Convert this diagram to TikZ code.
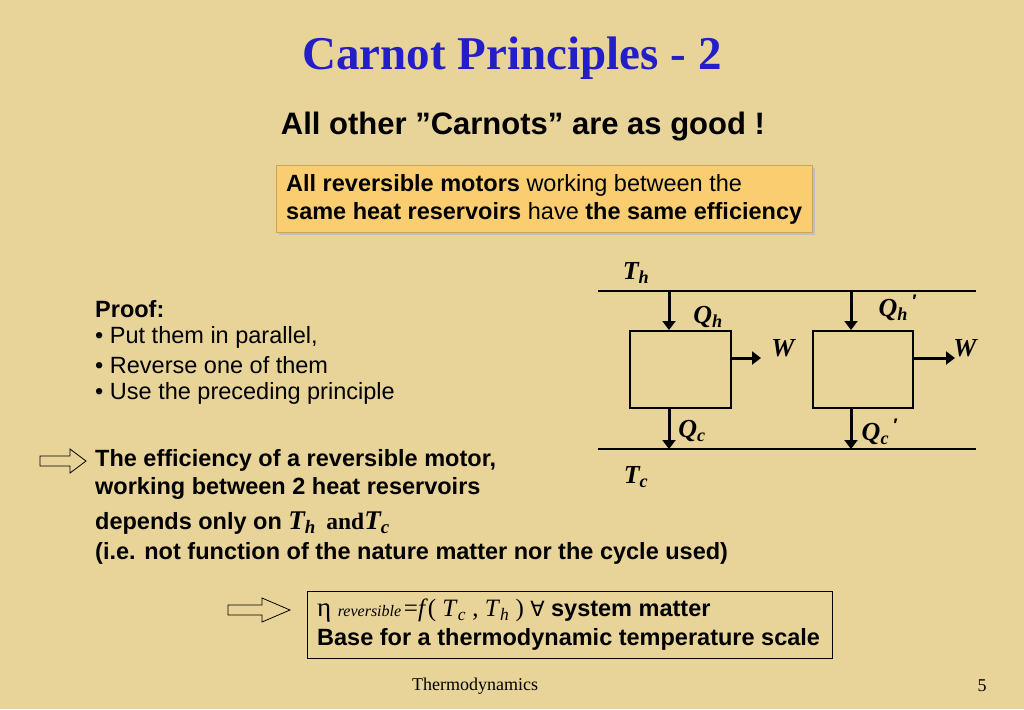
\documentclass[tikz,border=0pt]{standalone}
\usepackage{fontspec}
\setmainfont{Liberation Sans}
\newfontfamily\serif{Liberation Serif}
\newfontfamily\dejavu{DejaVu Sans}
\usetikzlibrary{arrows.meta}
\definecolor{bg}{RGB}{232,212,152}
\definecolor{ybox}{RGB}{250,206,112}
\definecolor{ttl}{RGB}{35,30,200}
\tikzset{
 txt/.style={anchor=west,inner sep=0pt,font=\fontsize{23.5}{26}\selectfont},
 sym/.style={inner sep=0pt,font=\serif\bfseries\itshape\fontsize{26}{28}\selectfont},
 lin/.style={line width=2pt},
 flow/.style={line width=3pt,-{Triangle[length=9pt,width=13pt]}},
 hollow/.style={line width=0.8pt,fill=bg}
}
\begin{document}
\begin{tikzpicture}[x=1pt,y=-1pt]
\fill[bg] (0,0) rectangle (1024,709);
\useasboundingbox (0,0) rectangle (1024,709);
\node (title) at (512,58) {\serif\bfseries\color{ttl}\fontsize{47}{50}\selectfont Carnot Principles - 2};
\node (sub) at (523,127) {\bfseries\fontsize{31}{34}\selectfont All other \symbol{34}Carnots\symbol{34} are as good !};
\fill[black!25] (279,168) rectangle (815,235);
\node[draw=ybox!80!black,line width=0.3pt,fill=ybox,minimum width=536,minimum height=67,inner sep=0pt] (ybx) at (544,198.5) {};
\node[txt] (y1) at (286,185) {\textbf{All reversible motors} working between the};
\node[txt] (y2) at (286,213) {\textbf{same heat reservoirs} have \textbf{the same efficiency}};
\node[txt] (p0) at (95,309) {\textbf{Proof:}};
\node[txt] (p1) at (95,337) {• Put them in parallel,};
\node[txt] (p2) at (95,365) {• Reverse one of them};
\node[txt] (p3) at (95,393) {• Use the preceding principle};
% diagram
\coordinate (tl) at (598,291); \coordinate (tr) at (976,291);
\coordinate (bl) at (598,449); \coordinate (br) at (976,449);
\draw[lin] (tl) -- (tr); \draw[lin] (bl) -- (br);
\node[draw,lin,minimum width=101,minimum height=77,inner sep=0pt] (m1) at (680.5,369.5) {};
\node[draw,lin,minimum width=100,minimum height=77,inner sep=0pt] (m2) at (863,369.5) {};
\coordinate (a1) at (669,291); \coordinate (a2) at (851,291);
\coordinate (c1) at (669,449); \coordinate (c2) at (851,449);
\coordinate (w1) at (761,358); \coordinate (w2) at (955,358);
\draw[flow] (a1) -- (a1 |- m1.north);
\draw[flow] (a2) -- (a2 |- m2.north);
\draw[flow] (c1 |- m1.south) -- (c1);
\draw[flow] (c2 |- m2.south) -- (c2);
\draw[flow] (m1.east |- w1) -- (w1);
\draw[flow] (m2.east |- w2) -- (w2);
\node[sym] (th) at (636,273) {T\textsubscript{h}};
\node[sym] (qh) at (708,317) {Q\textsubscript{h}};
\node[sym] (wa) at (783,348) {W};
\node[sym] (qh2) at (898,308) {Q\textsubscript{h}\,\textsuperscript{\normalfont\bfseries\char"2032}};
\node[sym] (wb) at (965,348) {W};
\node[sym] (qc) at (692,431) {Q\textsubscript{c}};
\node[sym] (qc2) at (880,432) {Q\textsubscript{c}\,\textsuperscript{\normalfont\bfseries\char"2032}};
\node[sym] (tc) at (636,477) {T\textsubscript{c}};
% conclusion 1
\draw[hollow] (40,456) -- (70,456) -- (70,449) -- (86,461) -- (70,473) -- (70,466) -- (40,466) -- cycle;
\node[txt] (e1) at (95,460) {\bfseries The efficiency of a reversible motor,};
\node[txt] (e2) at (95,488) {\bfseries working between 2 heat reservoirs};
\node[txt] (e3) at (95,523) {\bfseries depends only on {\serif\itshape\fontsize{27}{28}\selectfont T\textsubscript{h}}\, {\serif and}{\serif\itshape\fontsize{27}{28}\selectfont T\textsubscript{c}}};
\node[txt] (e4) at (95,553) {\bfseries (i.e. not function of the nature matter nor the cycle used)};
% conclusion 2
\draw[hollow] (228,605) -- (262,605) -- (262,598) -- (290,610) -- (262,622) -- (262,615) -- (228,615) -- cycle;
\node[draw,line width=0.8pt,minimum width=525,minimum height=67,inner sep=0pt] (fb) at (569.5,624.5) {};
\node[txt] (f1) at (317,611) {{\serif\fontsize{27}{28}\selectfont η} {\serif\itshape\fontsize{16}{18}\selectfont reversible\,}{\serif\fontsize{25}{28}\selectfont =\textit{f}( \textit{T}\textsubscript{\textit{c}} , \textit{T}\textsubscript{\textit{h}} ) {\dejavu\fontsize{21}{24}\selectfont ∀}} \textbf{system matter}};
\node[txt] (f2) at (317,639) {\bfseries Base for a thermodynamic temperature scale};
\node (ft) at (475,686) {\serif\fontsize{18}{20}\selectfont Thermodynamics};
\node (pg) at (982,686) {\serif\fontsize{18}{20}\selectfont 5};
\end{tikzpicture}
\end{document}
